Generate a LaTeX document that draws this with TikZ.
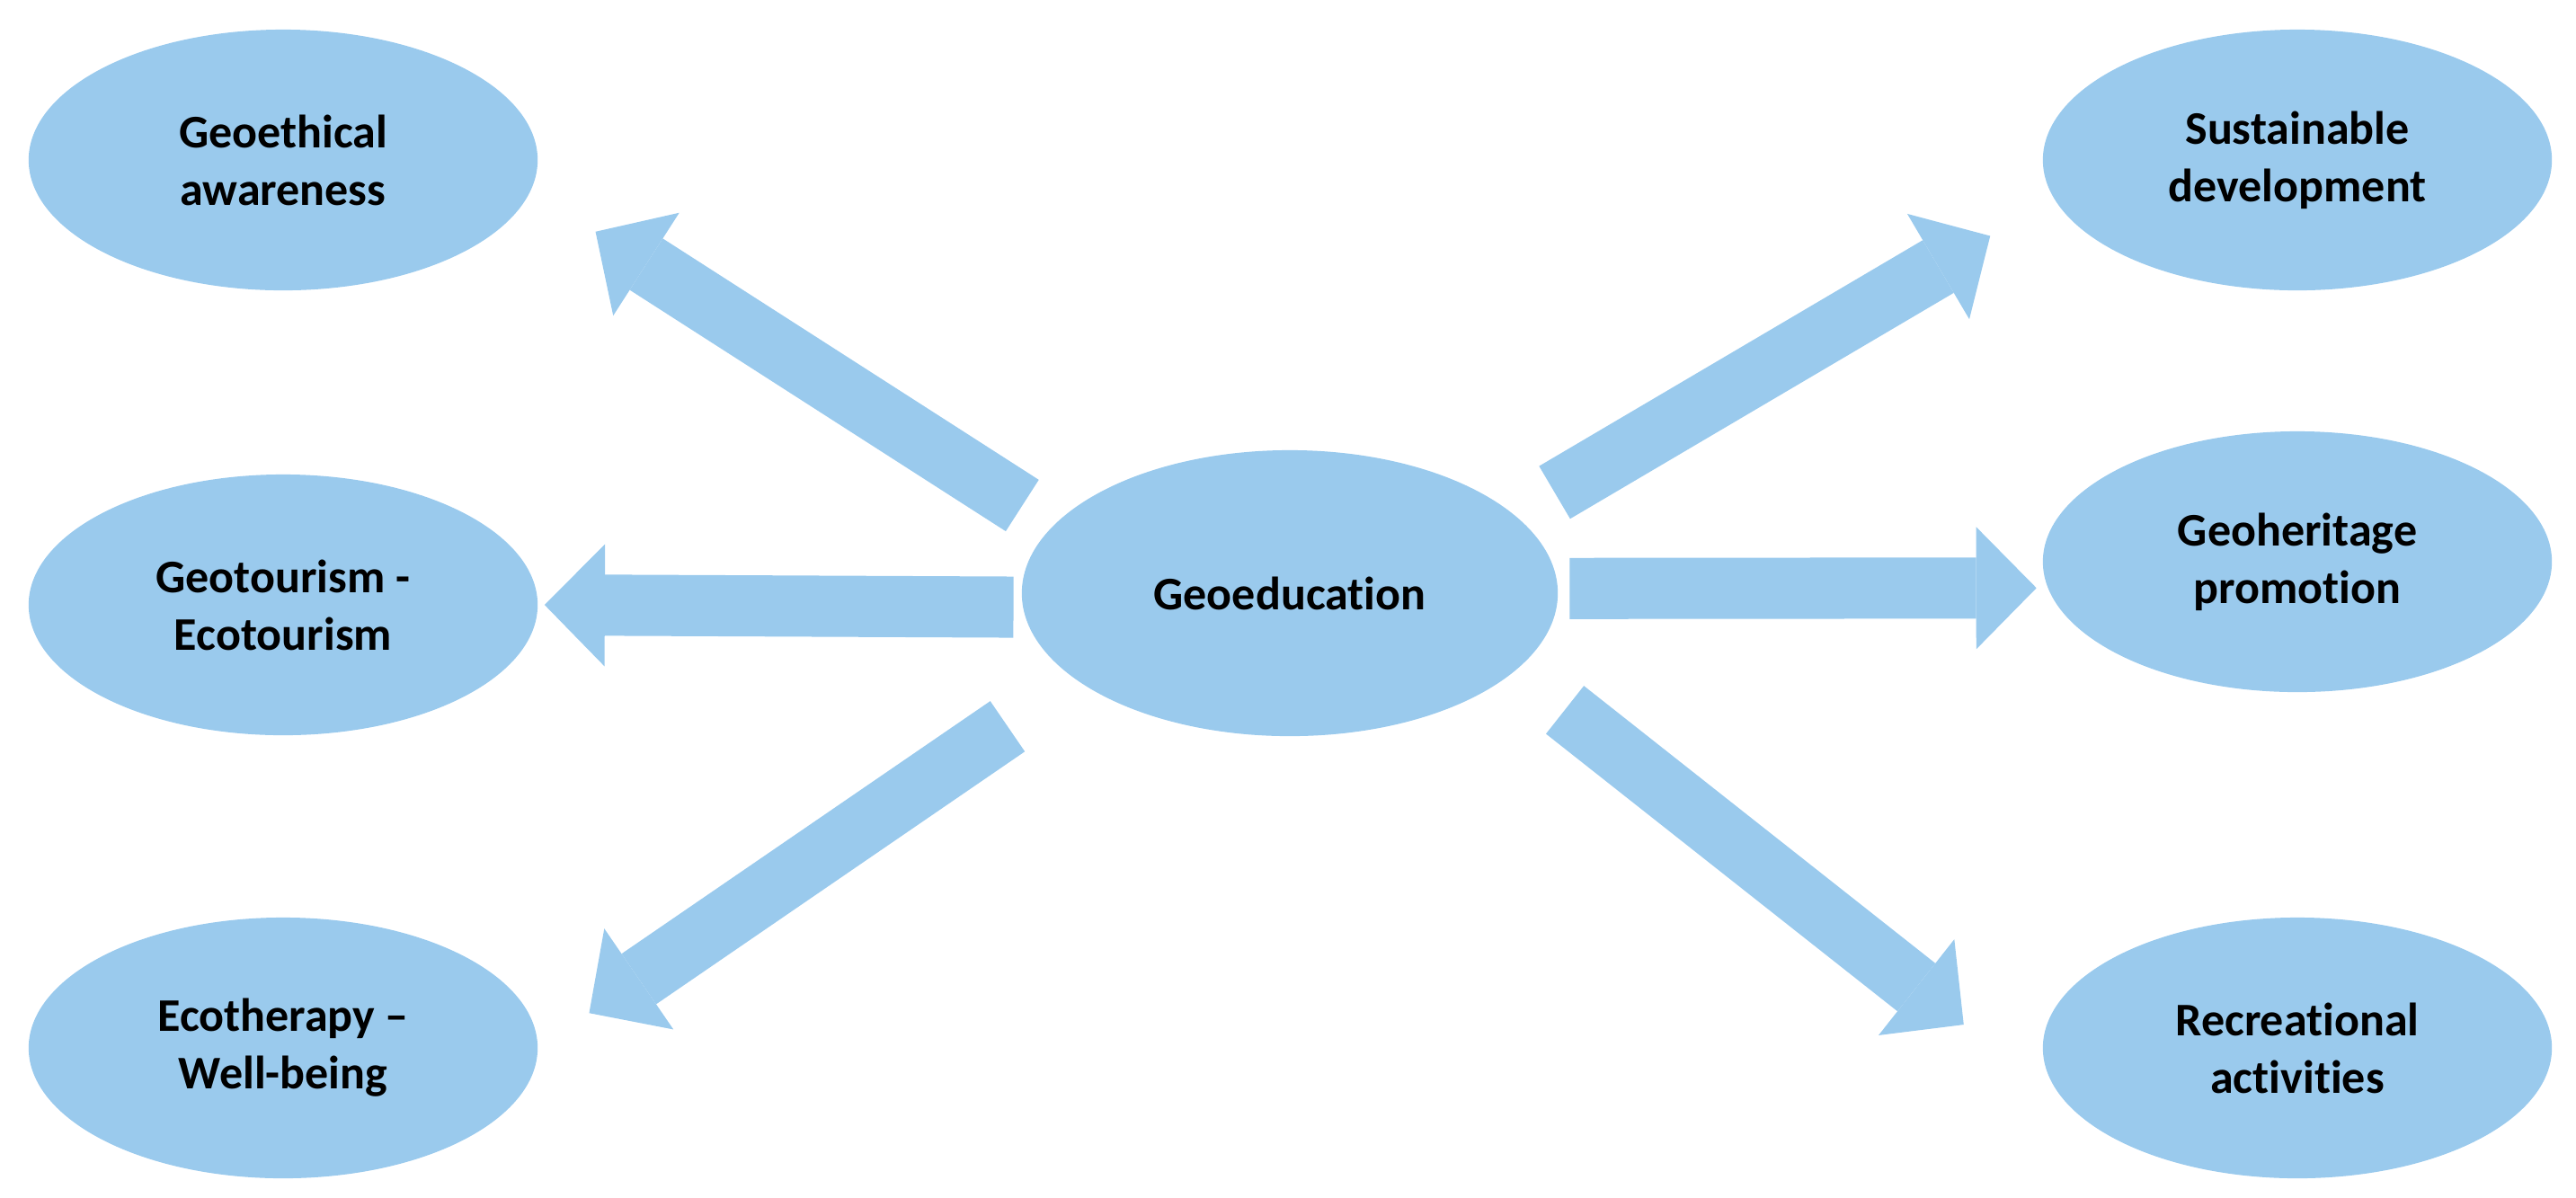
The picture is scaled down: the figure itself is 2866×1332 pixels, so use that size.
\documentclass[tikz,border=0pt]{standalone}
\usepackage{fontspec}
\setmainfont{Carlito}[Ligatures={TeX,NoCommon}]
\usetikzlibrary{shapes.geometric, arrows.meta}
\definecolor{bubblue}{RGB}{154,202,237}

\begin{document}
\begin{tikzpicture}[x=0.01cm, y=-0.01cm,
    bubble/.style={ellipse, fill=bubblue, inner sep=0pt, minimum width=5.66cm, minimum height=2.9cm, align=center, font=\fontsize{14.8}{18.2}\selectfont\bfseries},
    bigarrow/.style={draw=bubblue, line width=0.68cm, -{Triangle[width=1.36cm, length=0.67cm, line width=0pt]}}]
    \useasboundingbox (0,0) rectangle (2866,1332);

    \node[bubble, minimum width=5.96cm, minimum height=3.18cm] (GE) at (1435,660) {Geoeducation};
    \node[bubble] (GA) at (315,178) {Geoethical\\awareness};
    \node[bubble] (GT) at (315,673) {Geotourism -\\Ecotourism};
    \node[bubble] (EW) at (315,1166) {Ecotherapy –\\Well-being};
    \node[bubble] (SD) at (2556,178) {Sustainable\\development};
    \node[bubble] (GP) at (2556,625) {Geoheritage\\promotion};
    \node[bubble] (RA) at (2556,1166) {Recreational\\activities};

    \draw[bigarrow, shorten <=0.407cm, shorten >=0.849cm] (GE.164.7) -- (GA.-7.2);
    \draw[bigarrow, shorten <=0.10cm, shorten >=0.07cm] (GE.-177.5) -- (GT.east);
    \draw[bigarrow, shorten <=0.916cm, shorten >=0.686cm] (GE.-158.5) -- (EW.east);
    \draw[bigarrow, shorten <=0.503cm, shorten >=0.818cm] (GE.19.9) -- (SD.-171);
    \draw[bigarrow, shorten <=0.126cm, shorten >=0.122cm] (GE.1.9) -- (GP.-174.9);
    \draw[bigarrow, shorten <=0.698cm, shorten >=1.778cm] (GE.-19.1) -- (RA.200);

\end{tikzpicture}
\end{document}
